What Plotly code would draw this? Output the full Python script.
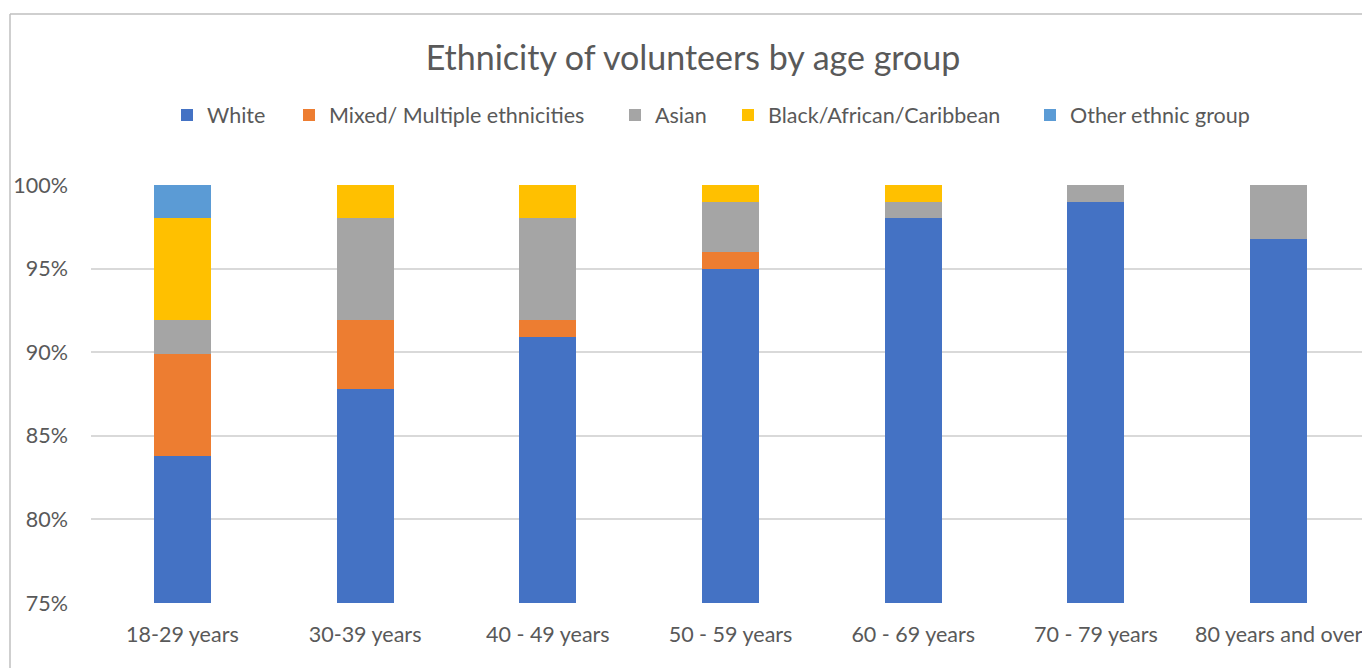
import plotly.graph_objects as go

categories = ["18-29 years", "30-39 years", "40 - 49 years", "50 - 59 years",
              "60 - 69 years", "70 - 79 years", "80 years and over"]
white = [83.8, 87.8, 90.9, 95.0, 98.0, 99.0, 96.8]
mixed = [6.1, 4.1, 1.0, 1.0, 0, 0, 0]
asian = [2.0, 6.1, 6.1, 3.0, 1.0, 1.0, 3.2]
black = [6.1, 2.0, 2.0, 1.0, 1.0, 0, 0]
other = [2.0, 0, 0, 0, 0, 0, 0]

series = [
    ("White", white, "#4472C4"),
    ("Mixed/ Multiple ethnicities", mixed, "#ED7D31"),
    ("Asian", asian, "#A5A5A5"),
    ("Black/African/Caribbean", black, "#FFC000"),
    ("Other ethnic group", other, "#5B9BD5"),
]
# left edge (px) of each legend entry's text, as in the reference
legend_text_x = [207, 329, 655, 768, 1070]

FONT = "Lato"
TXT = "#595959"
FS = 21.5

W, H = 1362, 668
L, R, T, B = 91, 0, 185, 65
pw = W - L - R
ph = H - T - B

fig = go.Figure()
legends = {}
for i, (name, vals, col) in enumerate(series):
    lg = "legend" if i == 0 else f"legend{i + 1}"
    fig.add_trace(go.Bar(x=categories, y=vals, name=name, legend=lg,
                         showlegend=True,
                         marker=dict(color=col, line=dict(width=0))))
    legends[lg] = dict(orientation="h",
                       x=(legend_text_x[i] - 40 - L) / pw, xanchor="left",
                       y=1 + (T - 115) / ph, yanchor="middle",
                       font=dict(size=FS, color=TXT, family=FONT),
                       bgcolor="rgba(0,0,0,0)", borderwidth=0, itemwidth=30,
                       visible=True)

fig.update_layout(
    width=W, height=H, autosize=False, showlegend=True,
    barmode="stack", bargap=0.688,
    margin=dict(l=L, r=R, t=T, b=B, pad=0),
    paper_bgcolor="white", plot_bgcolor="white",
    font=dict(family=FONT, color=TXT, size=FS),
    title=dict(text="Ethnicity of volunteers by age group",
               x=693 / W, xref="container", xanchor="center",
               y=1 - 58 / H, yref="container", yanchor="middle",
               font=dict(size=34, color=TXT, family=FONT)),
    xaxis=dict(range=[-0.5, 6.456], showgrid=False, showline=False,
               ticks="", tickfont=dict(size=FS, color=TXT),
               ticklabelstandoff=16, fixedrange=True),
    yaxis=dict(range=[75, 100], dtick=5, ticksuffix="%",
               showgrid=True, gridcolor="#D9D9D9", gridwidth=1.5,
               zeroline=False, showline=False, ticks="",
               tickfont=dict(size=FS, color=TXT),
               ticklabelstandoff=22, fixedrange=True),
    shapes=[
        dict(type="line", xref="paper", yref="paper",
             x0=(10 - L) / pw, x1=(10 - L) / pw, y0=1 + (T - 14) / ph, y1=-B / ph - 0.1,
             line=dict(color="#BFBFBF", width=1.5)),
        dict(type="line", xref="paper", yref="paper",
             x0=(10 - L) / pw, x1=1.05, y0=1 + (T - 14) / ph, y1=1 + (T - 14) / ph,
             line=dict(color="#BFBFBF", width=1.5)),
    ],
    **legends,
)

fig.write_html("out.html", config={"displayModeBar": False})
